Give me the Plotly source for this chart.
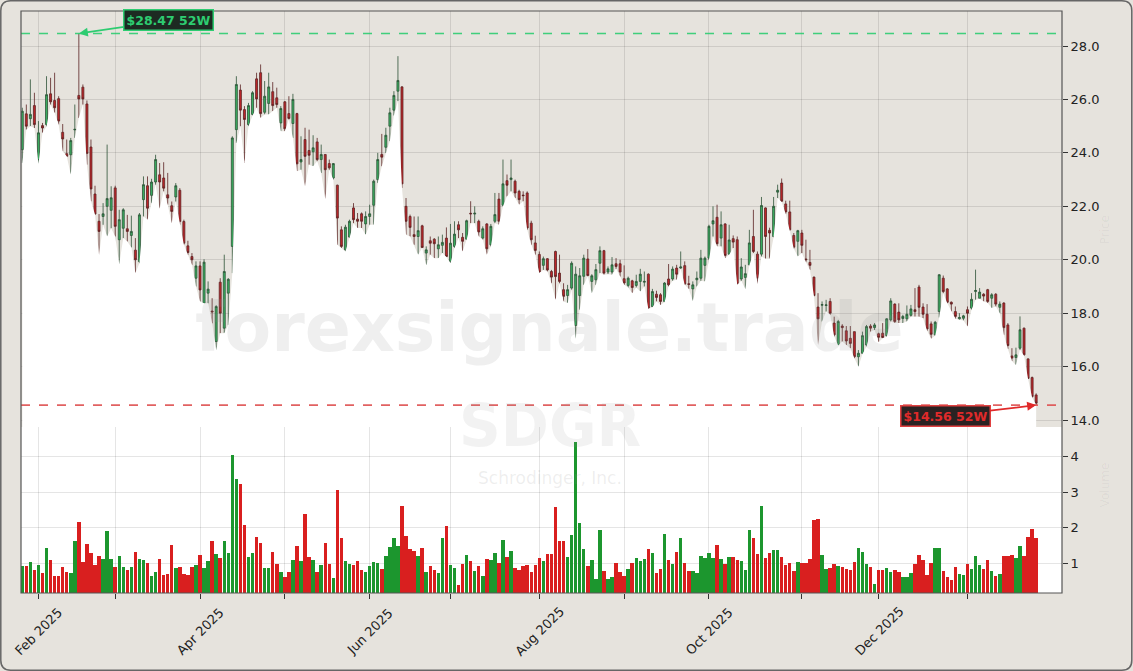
import pandas as pd
import plotly.graph_objects as go
from plotly.subplots import make_subplots

# ---------------- data ----------------
open_ = [24.12, 25.46, 25.28, 25.77, 23.75, 25.02, 25.06, 26.21, 25.96, 26.03,
         24.77, 23.97, 23.93, 24.86, 26.15, 26.46, 25.83, 24.22, 22.46, 21.44,
         21.62, 22.0, 21.85, 22.69, 20.75, 21.18, 21.16, 20.91, 20.36, 19.93,
         22.25, 22.77, 22.41, 22.91, 23.18, 23.06, 22.43, 22.02, 22.35, 22.6,
         21.43, 20.52, 20.12, 19.31, 19.77, 18.37, 18.75, 18.08, 16.94, 19.16,
         17.44, 18.75, 20.5, 24.87, 26.35, 25.62, 25.06, 25.44, 26.77, 27.0,
         25.52, 25.85, 26.29, 26.06, 25.12, 25.91, 25.47, 25.1, 25.47, 23.66,
         24.5, 24.09, 24.04, 24.41, 23.75, 23.94, 23.6, 23.06, 22.79, 21.12,
         20.37, 20.85, 21.94, 21.52, 21.72, 21.34, 21.62, 22.04, 23.0, 23.94,
         24.21, 25.0, 25.6, 26.31, 26.47, 22.0, 21.62, 20.94, 20.87, 21.27,
         20.25, 20.71, 20.77, 20.41, 20.54, 20.81, 19.94, 20.5, 21.31, 20.84,
         20.77, 21.74, 21.71, 21.44, 20.81, 21.34, 20.56, 21.44, 22.27, 22.04,
         22.96, 23.0, 22.94, 22.56, 22.42, 22.5, 21.37, 20.63, 20.2, 19.79,
         20.04, 19.56, 20.31, 19.5, 18.88, 18.66, 18.94, 17.54, 18.66, 19.38,
         20.03, 19.19, 19.25, 19.87, 20.34, 19.54, 19.54, 19.85, 19.85, 19.29,
         19.04, 19.21, 19.04, 19.19, 19.16, 19.46, 18.25, 18.71, 18.69, 18.44,
         19.28, 19.28, 19.69, 19.69, 19.78, 19.1, 18.91, 19.25, 19.31, 19.79,
         20.06, 21.34, 21.59, 20.81, 21.34, 20.21, 20.79, 20.75, 19.28, 19.34,
         19.81, 20.87, 20.21, 20.21, 21.94, 21.1, 20.87, 22.53, 22.87, 22.09,
         21.79, 20.91, 20.69, 21.0, 20.03, 19.9, 19.35, 18.23, 18.3, 18.29,
         18.44, 17.63, 16.81, 17.52, 17.34, 17.06, 17.31, 16.37, 16.5, 16.81,
         17.52, 17.46, 17.23, 17.25, 17.16, 17.75, 18.34, 18.04, 17.8, 17.79,
         17.92, 18.13, 18.98, 18.23, 17.96, 17.6, 17.19, 18.06, 19.31, 18.91,
         18.41, 18.06, 17.79, 17.81, 18.13, 18.19, 18.81, 18.56, 18.71, 18.88,
         18.56, 18.71, 18.22, 18.38, 17.56, 16.4, 16.34, 16.69, 17.44, 16.29,
         15.59, 14.94]

high = [25.69, 25.81, 26.75, 26.25, 25.19, 25.12, 26.87, 26.81, 27.0, 26.12,
        25.08, 24.5, 24.56, 25.81, 28.47, 26.56, 25.96, 24.5, 22.77, 21.71,
        22.12, 24.31, 22.75, 22.77, 21.87, 21.93, 21.68, 21.65, 20.81, 21.75,
        23.12, 23.12, 23.03, 23.93, 23.62, 23.65, 23.25, 22.18, 22.87, 22.68,
        21.5, 20.71, 20.25, 19.94, 19.94, 20.02, 19.19, 18.56, 18.3, 19.31,
        20.19, 19.31, 24.62, 26.87, 26.56, 25.75, 25.87, 26.31, 27.0, 27.31,
        26.69, 27.0, 26.65, 26.44, 25.75, 25.94, 26.12, 26.21, 25.5, 24.62,
        24.94, 24.87, 24.66, 24.56, 24.31, 23.94, 23.75, 23.62, 22.81, 21.25,
        21.31, 21.5, 22.12, 21.75, 21.77, 21.81, 22.06, 23.0, 24.0, 24.71,
        24.94, 25.69, 26.31, 27.62, 26.5, 22.31, 21.69, 21.62, 21.62, 21.31,
        20.5, 20.87, 20.81, 20.87, 20.94, 21.21, 21.34, 21.44, 21.44, 21.0,
        21.5, 22.19, 22.0, 21.5, 21.25, 21.37, 21.34, 22.5, 22.5, 23.75,
        23.19, 23.75, 23.0, 22.62, 22.56, 22.56, 21.46, 20.9, 20.31, 20.12,
        20.06, 19.62, 20.34, 20.19, 19.12, 19.06, 19.94, 19.75, 19.69, 20.19,
        20.4, 19.46, 19.84, 20.5, 20.37, 19.75, 20.1, 20.06, 20.0, 19.79,
        19.37, 19.25, 19.44, 19.66, 19.56, 19.49, 18.91, 18.84, 18.75, 19.16,
        19.84, 19.75, 19.81, 20.31, 19.94, 19.4, 19.19, 19.56, 20.37, 20.12,
        21.31, 22.0, 22.06, 21.81, 21.37, 21.31, 20.91, 20.87, 20.06, 19.81,
        21.12, 21.87, 20.31, 22.35, 21.96, 21.2, 22.35, 22.81, 23.04, 22.21,
        22.21, 21.0, 21.12, 21.12, 20.75, 20.37, 19.37, 18.75, 18.44, 18.5,
        18.56, 17.87, 17.75, 17.59, 17.52, 17.52, 17.31, 16.62, 17.31, 17.56,
        17.59, 17.63, 17.27, 17.63, 17.81, 18.56, 18.37, 18.37, 17.94, 18.29,
        18.31, 18.94, 19.06, 18.37, 18.34, 17.69, 17.71, 19.46, 19.41, 18.94,
        18.44, 18.25, 18.0, 17.94, 18.25, 18.75, 19.63, 18.94, 18.75, 18.91,
        18.75, 18.75, 18.44, 18.41, 17.63, 16.69, 16.71, 17.88, 17.46, 16.31,
        15.63, 15.0]

low = [23.62, 24.87, 25.0, 24.93, 23.59, 24.75, 24.99, 25.81, 25.5, 25.06,
       24.06, 23.87, 23.19, 24.56, 25.31, 25.81, 23.56, 22.19, 21.69, 20.18,
       21.31, 20.87, 21.18, 20.87, 19.83, 20.81, 20.68, 20.46, 19.5, 19.87,
       21.62, 21.5, 22.12, 22.81, 21.91, 22.56, 22.06, 21.37, 22.18, 21.31,
       20.56, 20.18, 19.81, 19.0, 18.44, 18.37, 18.37, 17.62, 16.62, 17.25,
       17.25, 17.56, 19.5, 24.37, 25.0, 23.62, 25.0, 25.4, 25.69, 25.31,
       25.44, 25.44, 25.56, 25.69, 24.81, 24.81, 25.25, 24.56, 23.31, 23.37,
       22.75, 23.56, 23.5, 23.69, 23.25, 22.27, 23.37, 23.0, 20.56, 20.44,
       20.31, 20.81, 21.37, 21.19, 21.19, 20.94, 21.31, 21.31, 22.87, 23.5,
       24.0, 24.44, 25.4, 25.94, 22.69, 20.94, 20.87, 20.56, 20.19, 20.44,
       19.79, 20.19, 20.06, 20.06, 20.25, 20.1, 19.87, 20.44, 20.81, 20.31,
       20.75, 21.37, 21.37, 20.87, 20.75, 20.19, 20.5, 21.37, 21.31, 22.0,
       22.37, 22.56, 22.31, 22.06, 22.19, 21.12, 20.56, 20.19, 19.5, 19.62,
       19.56, 19.12, 18.5, 19.12, 18.44, 18.38, 18.88, 17.04, 18.13, 19.06,
       19.38, 18.75, 19.06, 19.5, 19.44, 19.46, 19.44, 19.66, 19.37, 19.06,
       18.96, 18.75, 18.96, 18.81, 19.0, 18.16, 18.22, 18.44, 18.31, 18.41,
       19.0, 19.21, 19.25, 19.66, 19.06, 18.91, 18.46, 19.0, 19.21, 19.19,
       20.0, 20.87, 20.5, 20.5, 20.06, 20.19, 20.44, 19.06, 19.21, 18.91,
       19.79, 20.25, 19.09, 20.12, 20.04, 20.04, 20.84, 22.31, 22.16, 21.71,
       21.09, 20.41, 20.12, 20.25, 19.91, 19.62, 18.63, 16.81, 17.69, 18.06,
       17.94, 17.13, 16.79, 16.94, 16.81, 16.69, 16.31, 16.0, 16.47, 16.75,
       17.31, 17.37, 16.91, 17.06, 17.12, 17.69, 17.63, 17.63, 17.63, 17.69,
       17.87, 17.87, 17.87, 17.81, 17.34, 17.04, 17.16, 17.84, 18.75, 18.37,
       18.06, 17.79, 17.75, 17.73, 17.5, 18.13, 18.5, 18.54, 18.44, 18.38,
       18.19, 18.25, 18.0, 17.19, 16.66, 16.21, 16.06, 16.63, 16.41, 15.54,
       14.84, 14.56]

close = [25.56, 25.0, 25.44, 25.06, 24.75, 24.93, 26.18, 25.91, 25.69, 25.19,
         24.52, 23.87, 24.46, 24.88, 26.02, 26.02, 23.98, 22.65, 21.71, 21.06,
         21.72, 22.29, 22.32, 21.25, 21.5, 21.87, 21.06, 21.06, 20.0, 21.68,
         22.81, 21.93, 22.91, 23.75, 22.91, 22.68, 22.31, 21.81, 22.77, 21.43,
         20.62, 20.27, 20.0, 19.77, 18.87, 19.91, 18.9, 18.05, 18.25, 18.0,
         19.56, 19.27, 24.56, 26.56, 25.6, 25.25, 25.77, 26.25, 26.02, 25.47,
         26.12, 26.47, 25.77, 25.81, 25.66, 24.9, 25.29, 26.0, 23.59, 23.75,
         23.87, 23.91, 24.19, 23.75, 23.94, 23.37, 23.44, 23.6, 21.56, 20.5,
         21.22, 21.44, 21.5, 21.44, 21.44, 21.62, 21.72, 22.94, 23.75, 23.84,
         24.66, 25.5, 26.15, 26.71, 22.84, 21.44, 21.21, 20.87, 21.09, 20.46,
         20.37, 20.62, 20.6, 20.56, 20.65, 20.12, 20.62, 20.96, 21.12, 20.69,
         21.46, 21.72, 21.74, 21.04, 21.16, 20.41, 21.25, 21.69, 21.44, 22.84,
         22.79, 23.06, 22.5, 22.25, 22.4, 21.19, 20.75, 20.35, 19.54, 20.04,
         19.62, 19.35, 19.37, 19.19, 18.63, 18.88, 19.87, 19.46, 19.4, 20.06,
         19.41, 19.4, 19.63, 20.34, 19.5, 19.66, 19.81, 19.75, 19.54, 19.13,
         19.31, 18.96, 19.19, 19.46, 19.19, 18.19, 18.81, 18.59, 18.44, 19.13,
         19.06, 19.65, 19.46, 19.73, 19.09, 19.08, 19.06, 19.31, 20.06, 20.06,
         21.25, 21.46, 20.6, 21.31, 20.16, 20.74, 20.66, 19.09, 19.73, 19.48,
         20.63, 20.31, 19.31, 22.03, 20.87, 21.0, 22.0, 22.6, 22.19, 21.79,
         21.12, 20.47, 21.09, 20.54, 20.0, 19.79, 18.66, 17.79, 18.32, 18.31,
         18.0, 17.19, 17.69, 17.46, 16.96, 16.87, 16.37, 16.5, 17.16, 17.5,
         17.44, 17.56, 17.1, 17.09, 17.79, 18.46, 17.69, 17.75, 17.88, 17.96,
         18.16, 18.06, 18.22, 17.96, 17.41, 17.21, 17.66, 19.44, 18.81, 18.41,
         18.34, 17.88, 17.84, 17.9, 18.0, 18.52, 18.85, 18.79, 18.64, 18.44,
         18.69, 18.34, 18.34, 17.46, 16.79, 16.32, 16.44, 17.38, 16.44, 15.56,
         14.88, 14.63]

volume_m = [0.92, 0.92, 1.03, 0.81, 0.95, 0.72, 1.42, 1.09, 0.64, 0.64,
            0.89, 0.75, 0.72, 1.63, 2.16, 1.02, 1.54, 1.29, 0.95, 1.2,
            1.12, 1.91, 1.12, 0.9, 1.2, 0.9, 0.81, 0.9, 1.32, 1.12,
            1.09, 1.01, 0.64, 0.75, 1.12, 0.67, 0.70, 1.52, 0.87, 0.9,
            0.70, 0.67, 0.9, 0.95, 1.23, 0.87, 1.06, 1.63, 1.26, 1.15,
            1.63, 1.29, 4.05, 3.37, 3.23, 2.08, 1.18, 1.29, 1.74, 1.57,
            0.87, 0.87, 1.32, 0.98, 0.75, 0.61, 0.75, 1.09, 1.49, 1.06,
            2.39, 1.18, 1.09, 0.75, 0.95, 1.57, 0.98, 0.58, 3.06, 1.71,
            1.06, 0.98, 0.95, 1.06, 0.81, 0.75, 0.92, 1.03, 1.01, 0.84,
            1.2, 1.46, 1.71, 1.49, 2.61, 1.77, 1.4, 1.33, 1.2, 1.43,
            0.75, 0.92, 0.81, 0.73, 1.71, 2.05, 0.95, 0.87, 0.39, 0.98,
            1.23, 1.06, 0.78, 0.92, 0.64, 1.12, 1.09, 1.29, 1.01, 1.66,
            1.18, 1.35, 0.87, 0.81, 0.92, 0.95, 0.75, 0.95, 1.15, 1.06,
            1.26, 1.26, 2.58, 1.63, 1.63, 1.18, 1.8, 4.41, 2.13, 1.4,
            0.92, 1.09, 0.56, 1.94, 0.78, 0.56, 0.61, 1.01, 0.75, 0.64,
            0.84, 1.01, 1.15, 1.06, 1.12, 1.4, 1.29, 0.73, 0.84, 1.83,
            1.09, 0.98, 1.32, 1.71, 1.01, 0.78, 0.78, 0.73, 1.2, 1.15,
            1.29, 1.15, 1.52, 1.12, 0.98, 1.18, 1.18, 1.09, 1.06, 0.81,
            1.94, 1.71, 1.26, 2.61, 1.14, 1.28, 1.37, 1.37, 1.17, 0.95,
            1.0, 0.78, 1.03, 1.0, 1.0, 1.11, 2.21, 2.24, 1.23, 0.83,
            0.85, 0.97, 0.92, 0.89, 0.83, 0.79, 1.03, 1.42, 1.32, 0.97,
            0.89, 0.42, 0.79, 0.79, 0.86, 0.75, 0.79, 0.75, 0.6, 0.6,
            0.72, 0.98, 1.22, 1.09, 0.67, 1.0, 1.42, 1.42, 0.78, 0.6,
            0.53, 0.89, 0.69, 0.67, 0.97, 0.84, 1.2, 0.95, 0.84, 1.09,
            0.78, 0.64, 0.69, 1.2, 1.19, 1.22, 1.14, 1.49, 1.2, 1.73,
            1.96, 1.7]

market_holidays = ["2025-02-17", "2025-04-18", "2025-05-26", "2025-06-19",
                   "2025-07-04", "2025-09-01", "2025-11-27", "2025-12-25",
                   "2026-01-01", "2026-01-19"]

ticker = "SDGR"
company = "Schrodinger, Inc."
watermark = "forexsignale.trade"

# ---------------- derived ----------------
n = len(close)
dates = pd.bdate_range("2025-01-28", "2026-02-27", freq="C",
                       holidays=market_holidays)[:n]
idx = list(range(n))

tickvals, ticktext = [], []
prev = None
for i, d in enumerate(dates):
    key = (d.year, d.month)
    if key != prev:
        if prev is not None:
            tickvals.append(i)
            ticktext.append(d.strftime("%b %Y") if d.month % 2 == 0 else "")
        prev = key

GREEN_BAR = "#1c962e"
RED_BAR = "#d91f1f"
vol_colors = [GREEN_BAR if c >= o else RED_BAR for o, c in zip(open_, close)]

hi52 = max(high)
lo52 = min(low)
hi_i = high.index(hi52)
lo_i = low.index(lo52)

BEIGE = "#e6e3dd"
GRID = "rgba(0,0,0,0.10)"
FONT = "DejaVu Sans"

fig = make_subplots(rows=2, cols=1, shared_xaxes=True, vertical_spacing=0,
                    row_heights=[0.7148, 0.2852])

# white area under the lows
fig.add_trace(go.Scatter(x=idx, y=low, mode="lines", line=dict(width=0),
                         fill="tozeroy", fillcolor="white",
                         hoverinfo="skip", showlegend=False), row=1, col=1)

fig.add_trace(go.Candlestick(
    x=idx, open=open_, high=high, low=low, close=close,
    increasing=dict(fillcolor="#3aae60", line=dict(color="#2c5236", width=0.8)),
    decreasing=dict(fillcolor="#c0262a", line=dict(color="#5a2222", width=0.8)),
    whiskerwidth=0, showlegend=False), row=1, col=1)

fig.add_trace(go.Bar(x=idx, y=volume_m, marker=dict(color=vol_colors, line=dict(width=0)),
                     width=0.86, showlegend=False), row=2, col=1)

x_range = [-0.32, n - 1 + 6.4]

fig.update_layout(
    width=1133, height=671,
    margin=dict(l=21, r=71, t=11, b=78),
    paper_bgcolor=BEIGE, plot_bgcolor=BEIGE,
    font=dict(family=FONT, size=13, color="#222"),
    showlegend=False, hovermode=False,
    bargap=0,
)

fig.update_xaxes(range=x_range, tickvals=tickvals, showgrid=True, gridcolor=GRID,
                 gridwidth=1, zeroline=False, showline=False, showticklabels=False)
fig.update_xaxes(ticks="", rangeslider=dict(visible=False), row=1, col=1)
fig.update_xaxes(ticks="outside", ticklen=5, tickcolor="#333", row=2, col=1)

fig.update_yaxes(side="right", range=[13.74, 29.31], tick0=0, dtick=2, tickformat=".1f",
                 ticks="outside", ticklen=5, tickcolor="#333", showgrid=True,
                 gridcolor=GRID, zeroline=False, showline=False,
                 tickfont=dict(size=13, color="#222"), row=1, col=1)
fig.update_yaxes(side="right", range=[0.155, 4.84], tickvals=[1, 2, 3, 4],
                 ticks="outside", ticklen=5, tickcolor="#333", showgrid=True,
                 gridcolor=GRID, zeroline=False, showline=False,
                 tickfont=dict(size=13, color="#222"), row=2, col=1)

shapes = [
    dict(type="rect", xref="x2 domain", yref="y2 domain", x0=0, x1=1, y0=0, y1=1,
         fillcolor="white", line=dict(width=0), layer="below"),
    dict(type="line", xref="x domain", yref="y", x0=0, x1=1, y0=hi52, y1=hi52,
         line=dict(color="rgba(46,204,113,0.9)", width=1.6, dash="dash")),
    dict(type="line", xref="x domain", yref="y", x0=0, x1=1, y0=lo52, y1=lo52,
         line=dict(color="rgba(222,80,80,0.9)", width=1.6, dash="dash")),
    dict(type="rect", xref="paper", yref="paper", x0=0, x1=1, y0=0, y1=1,
         line=dict(color="#555", width=1.2), fillcolor="rgba(0,0,0,0)", layer="above"),
]

pw, ph = 1041.0, 582.0
L, R = -20.2 / pw, 1 + 69.8 / pw
B, T = -77.2 / ph, 1 + 10.2 / ph
rx, ry = 10 / pw, 10 / ph
path = (f"M {L+rx},{T} L {R-rx},{T} Q {R},{T} {R},{T-ry} L {R},{B+ry} "
        f"Q {R},{B} {R-rx},{B} L {L+rx},{B} Q {L},{B} {L},{B+ry} L {L},{T-ry} "
        f"Q {L},{T} {L+rx},{T} Z")
shapes.append(dict(type="path", xref="paper", yref="paper", path=path,
                   line=dict(color="#666", width=1.5), fillcolor="rgba(0,0,0,0)"))
fig.update_layout(shapes=shapes)

annotations = [
    dict(x=0.508, y=0.457, xref="paper", yref="paper", text=watermark, showarrow=False,
         font=dict(family=FONT, size=68, color="rgba(150,150,150,0.15)", weight="bold")),
    dict(x=0.508, y=0.225, xref="paper", yref="paper", text=ticker, showarrow=False,
         font=dict(family=FONT, size=58, color="rgba(150,150,150,0.12)", weight="bold")),
    dict(x=0.508, y=0.177, xref="paper", yref="paper", text=company, showarrow=False,
         font=dict(family=FONT, size=17, color="rgba(150,150,150,0.16)")),
    dict(x=1 + 52 / pw, y=0.623, xref="paper", yref="paper", text="Price", showarrow=False,
         textangle=-90, font=dict(family=FONT, size=12, color="rgba(0,0,0,0.05)")),
    dict(x=1 + 52 / pw, y=0.143, xref="paper", yref="paper", text="Volume", showarrow=False,
         textangle=-90, font=dict(family=FONT, size=12, color="rgba(0,0,0,0.05)")),
    dict(x=hi_i, y=hi52, xref="x", yref="y", text=f"${hi52:.2f} 52W",
         showarrow=True, ax=90, ay=-13, arrowhead=2, arrowsize=1, arrowwidth=1.8,
         arrowcolor="#2ecc71", bgcolor="#1d2a22", bordercolor="#2ecc71", borderwidth=1.5,
         borderpad=2, font=dict(family=FONT, size=12.5, color="#2ecc71", weight="bold")),
    dict(x=lo_i, y=lo52, xref="x", yref="y", text=f"${lo52:.2f} 52W",
         showarrow=True, ax=-91, ay=11, arrowhead=2, arrowsize=1, arrowwidth=1.8,
         arrowcolor="#e02a2a", bgcolor="#2a2222", bordercolor="#e04040", borderwidth=1.5,
         borderpad=2, font=dict(family=FONT, size=12.5, color="#e02a2a", weight="bold")),
]
# month labels, centred under their ticks and rotated 45 degrees
for tv, tt in zip(tickvals, ticktext):
    if tt:
        annotations.append(dict(x=tv, y=-38 / ph, xref="x2", yref="paper", text=tt,
                                showarrow=False, textangle=-45, xanchor="center",
                                yanchor="middle",
                                font=dict(family=FONT, size=13, color="#222")))
fig.update_layout(annotations=annotations)

fig.write_html("out.html", config={"displayModeBar": False},
               post_script="document.body.style.margin='0px';")
